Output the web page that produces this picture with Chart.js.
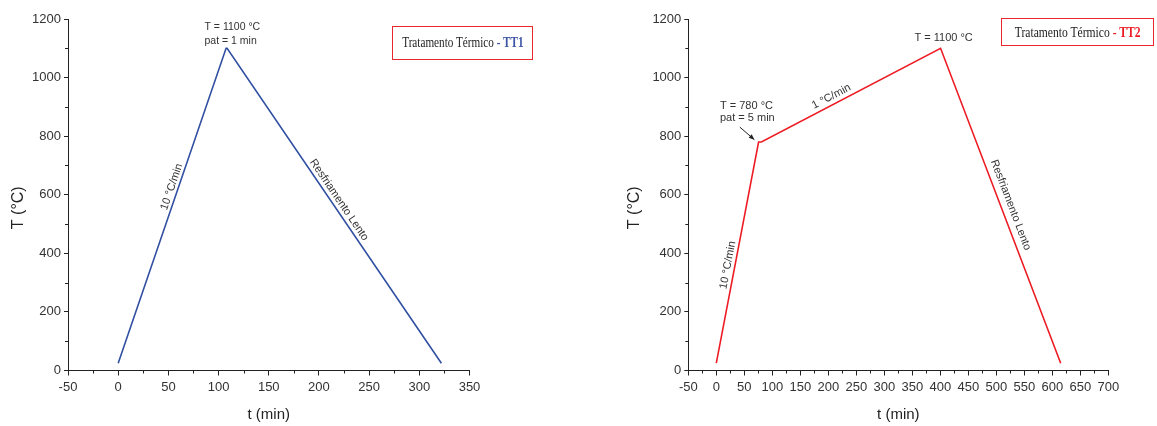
<!DOCTYPE html>
<html>
<head>
<meta charset="utf-8">
<script src="https://cdn.jsdelivr.net/npm/chart.js@4.4.0/dist/chart.umd.min.js"></script>
<style>
    body { margin: 0; background: #fff; width: 1157px; height: 426px; overflow: hidden; position: relative; }
    .wrap { position: absolute; top: 0; height: 426px; }
    #w1 { left: 0; width: 578px; }
    #w2 { left: 578px; width: 579px; }
    .tag {
        position: absolute; box-sizing: border-box; border: 1px solid #e8262b;
        font-family: 'Liberation Serif', 'Times New Roman', serif; color: #222;
        display: flex; align-items: center; justify-content: center; white-space: nowrap;
    }
    .tag span { display: inline-block; transform: scaleX(0.8); }
</style>
</head>
<body>
<div class="wrap" id="w1"><canvas id="tt1Chart"></canvas></div>
<div class="wrap" id="w2"><canvas id="tt2Chart"></canvas></div>
<div class="tag" style="left:392px;top:26px;width:141px;height:34px;font-size:14px;"><span>Tratamento Térmico <b style="color:#3b54a4">- TT1</b></span></div>
<div class="tag" style="left:1001px;top:18px;width:153px;height:28px;font-size:14.5px;"><span>Tratamento Térmico <b style="color:#ed1c24">- TT2</b></span></div>

<script>
// TT1 - aquecimento a 10 °C/min, patamar 1 min, resfriamento lento
const tt1Time = [0, 107.5, 108.5, 322];
const tt1Temp = [25, 1100, 1100, 25];

// TT2 - 10 °C/min ate 780 °C, patamar 5 min, 1 °C/min ate 1100 °C, resfriamento lento
const tt2Time = [0, 75.5, 80.5, 400.5, 615];
const tt2Temp = [25, 780, 780, 1100, 25];

const tempTicks = [0, 200, 400, 600, 800, 1000, 1200];
const tt1TimeRange = [-50, 350];
const tt2TimeRange = [-50, 700];

const FONT = '"Liberation Sans", Arial, sans-serif';
const INK = '#333';

// minor ticks, text labels and y title
const decoPlugin = {
    id: 'deco',
    afterDraw(chart, args, opts) {
        const { ctx, chartArea, scales: { x, y } } = chart;
        ctx.save();
        ctx.strokeStyle = '#222';
        ctx.lineWidth = 1;

        // minor ticks
        for (let v = x.min; v <= x.max; v += 25) {
            if (v % 50 === 0) continue;
            const px = Math.round(x.getPixelForValue(v)) + 0.5;
            ctx.beginPath();
            ctx.moveTo(px, chartArea.bottom);
            ctx.lineTo(px, chartArea.bottom + 3);
            ctx.stroke();
        }
        for (let v = y.min + 100; v < y.max; v += 200) {
            const py = Math.round(y.getPixelForValue(v)) + 0.5;
            ctx.beginPath();
            ctx.moveTo(chartArea.left, py);
            ctx.lineTo(chartArea.left - 3, py);
            ctx.stroke();
        }

        // notes
        const data = chart.data.datasets[0].data;
        ctx.fillStyle = INK;
        ctx.textBaseline = 'middle';
        (opts.notes || []).forEach(n => {
            let angle = 0;
            if (n.along) {
                const a = data[n.along[0]], b = data[n.along[1]];
                angle = Math.atan2(y.getPixelForValue(b.y) - y.getPixelForValue(a.y),
                                   x.getPixelForValue(b.x) - x.getPixelForValue(a.x));
            }
            ctx.save();
            ctx.translate(x.getPixelForValue(n.x), y.getPixelForValue(n.y));
            ctx.rotate(angle);
            ctx.font = (n.size || 11) + 'px ' + FONT;
            ctx.textAlign = n.align || 'center';
            ctx.fillText(n.text, 0, 0);
            ctx.restore();
        });

        // arrows
        (opts.arrows || []).forEach(a => {
            const x0 = x.getPixelForValue(a.from[0]), y0 = y.getPixelForValue(a.from[1]);
            const x1 = x.getPixelForValue(a.to[0]), y1 = y.getPixelForValue(a.to[1]);
            const ang = Math.atan2(y1 - y0, x1 - x0);
            ctx.beginPath();
            ctx.moveTo(x0, y0);
            ctx.lineTo(x1, y1);
            ctx.stroke();
            ctx.beginPath();
            ctx.moveTo(x1, y1);
            ctx.lineTo(x1 - 6 * Math.cos(ang - 0.4), y1 - 6 * Math.sin(ang - 0.4));
            ctx.lineTo(x1 - 6 * Math.cos(ang + 0.4), y1 - 6 * Math.sin(ang + 0.4));
            ctx.closePath();
            ctx.fillStyle = '#222';
            ctx.fill();
        });

        // y axis title
        ctx.save();
        ctx.translate(opts.yTitleX, (chartArea.top + chartArea.bottom) / 2 + 13);
        ctx.rotate(-Math.PI / 2);
        ctx.font = '16px ' + FONT;
        ctx.fillStyle = '#222';
        ctx.textAlign = 'center';
        ctx.fillText('T (°C)', 0, 0);
        ctx.restore();

        ctx.restore();
    }
};

function makeChart(id, times, temps, color, range, yWidth, padding, deco) {
    const ctx = document.getElementById(id).getContext('2d');
    return new Chart(ctx, {
        type: 'line',
        data: {
            datasets: [{
                data: times.map((t, i) => ({ x: t, y: temps[i] })),
                borderColor: color,
                borderWidth: 1.6,
                pointRadius: 0,
                tension: 0,
                fill: false
            }]
        },
        options: {
            responsive: true,
            maintainAspectRatio: false,
            animation: false,
            layout: { padding: padding },
            plugins: {
                legend: { display: false },
                tooltip: { enabled: false },
                deco: deco
            },
            scales: {
                x: {
                    type: 'linear',
                    min: range[0],
                    max: range[1],
                    afterFit: s => { s.height = 55.5; },
                    border: { color: '#222', width: 1 },
                    grid: { drawOnChartArea: false, tickLength: 5, color: '#222' },
                    ticks: { stepSize: 50, color: INK, padding: 4, maxRotation: 0, autoSkip: false,
                             callback: v => String(v), font: { family: FONT, size: 13 } },
                    title: { display: true, text: 't (min)', color: '#222', padding: { top: 0, bottom: 2 }, font: { family: FONT, size: 15 } }
                },
                y: {
                    min: tempTicks[0],
                    max: tempTicks[tempTicks.length - 1],
                    afterFit: s => { s.width = yWidth; },
                    afterBuildTicks: s => { s.ticks = tempTicks.map(v => ({ value: v })); },
                    border: { color: '#222', width: 1 },
                    grid: { drawOnChartArea: false, tickLength: 4, color: '#222' },
                    ticks: { color: INK, padding: 3, callback: v => String(v), font: { family: FONT, size: 13 } }
                }
            }
        },
        plugins: [decoPlugin]
    });
}

makeChart('tt1Chart', tt1Time, tt1Temp, '#3150a2', tt1TimeRange, 68,
    { top: 19, right: 108.5, left: 0, bottom: 0 },
    {
        yTitleX: 18.5,
        notes: [
            { text: 'T = 1100 °C', x: 86, y: 1173, align: 'left', size: 10.5 },
            { text: 'pat = 1 min', x: 86, y: 1125, align: 'left', size: 10.5 },
            { text: '10 °C/min', x: 53.4, y: 627, along: [0, 1] },
            { text: 'Resfriamento Lento', x: 220, y: 582, along: [2, 3] }
        ]
    });

makeChart('tt2Chart', tt2Time, tt2Temp, '#ed1c24', tt2TimeRange, 70.3,
    { top: 19, right: 48.7, left: 40, bottom: 0 },
    {
        yTitleX: 57,
        notes: [
            { text: 'T = 780 °C', x: 6.6, y: 904, align: 'left', size: 11 },
            { text: 'pat = 5 min', x: 6.6, y: 861, align: 'left', size: 11 },
            { text: 'T = 1100 °C', x: 406, y: 1135, size: 11 },
            { text: '1 °C/min', x: 205.5, y: 935, along: [2, 3] },
            { text: '10 °C/min', x: 20.7, y: 360, along: [0, 1] },
            { text: 'Resfriamento Lento', x: 525.7, y: 565, along: [3, 4] }
        ],
        arrows: [
            { from: [42, 831], to: [68, 788] }
        ]
    });
</script>
</body>
</html>
